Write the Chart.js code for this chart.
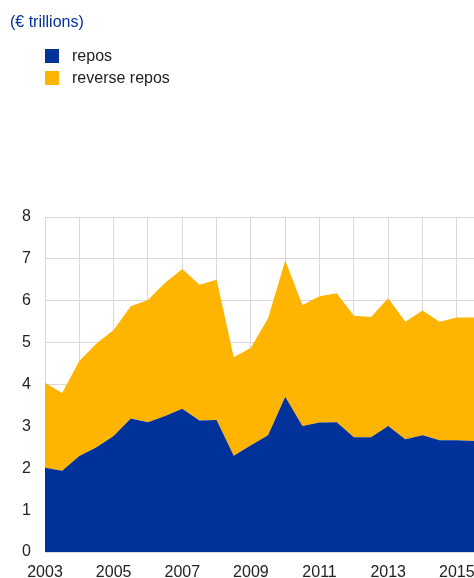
<!DOCTYPE html>
<html>
<head>
<meta charset="utf-8">
<script src="https://cdn.jsdelivr.net/npm/chart.js@4/dist/chart.umd.min.js"></script>
<style>
  html, body { margin: 0; padding: 0; background: #fff; }
  #wrap { position: relative; width: 474px; height: 578px; overflow: hidden; font-family: "Liberation Sans", Arial, sans-serif; }
  #c { position: absolute; left: 0; top: 0; }
  .title { position: absolute; left: 10px; top: 11px; font-size: 16px; line-height: 22px; color: #003299; }
  .leg { position: absolute; left: 45px; font-size: 16px; line-height: 22px; color: #222; height: 22px; }
  .leg span.sw { position: absolute; left: 0; top: 4px; width: 14px; height: 14px; }
  .leg span.tx { position: absolute; left: 27px; top: 0; white-space: nowrap; }
</style>
</head>
<body>
<div id="wrap">
  <canvas id="c" width="474" height="578"></canvas>
  <div class="title">(€ trillions)</div>
  <div class="leg" style="top:45px"><span class="sw" style="background:#003299"></span><span class="tx">repos</span></div>
  <div class="leg" style="top:67px"><span class="sw" style="background:#ffb400"></span><span class="tx">reverse repos</span></div>
</div>
<script>
const periods = [2003, 2003.5, 2004, 2004.5, 2005, 2005.5, 2006, 2006.5, 2007, 2007.5,
                 2008, 2008.5, 2009, 2009.5, 2010, 2010.5, 2011, 2011.5, 2012, 2012.5,
                 2013, 2013.5, 2014, 2014.5, 2015, 2015.5];
const repos = [2.01, 1.94, 2.29, 2.50, 2.77, 3.19, 3.10, 3.25, 3.42, 3.14,
               3.15, 2.30, 2.55, 2.79, 3.71, 3.01, 3.09, 3.10, 2.74, 2.74,
               3.01, 2.69, 2.79, 2.67, 2.67, 2.65];
const reverseRepos = [2.03, 1.86, 2.27, 2.48, 2.53, 2.68, 2.92, 3.18, 3.34, 3.24,
                      3.35, 2.35, 2.33, 2.79, 3.25, 2.89, 3.02, 3.08, 2.90, 2.87,
                      3.05, 2.81, 2.98, 2.83, 2.93, 2.95];
const seriesNames = ['repos', 'reverse repos'];
const xTickYears = [2003, 2004, 2005, 2006, 2007, 2008, 2009, 2010, 2011, 2012, 2013, 2014, 2015];
const xTickLabels = ['2003', '', '2005', '', '2007', '', '2009', '', '2011', '', '2013', '', '2015'];
const yTicks = [0, 1, 2, 3, 4, 5, 6, 7, 8];

const toXY = arr => arr.map((v, i) => ({ x: periods[i], y: v }));
const gridColor = '#d9d9d9';
const fontSpec = { family: '"Liberation Sans", Arial, sans-serif', size: 16 };

new Chart(document.getElementById('c'), {
  type: 'line',
  data: {
    datasets: [
      { label: seriesNames[0], data: toXY(repos), backgroundColor: '#003299', borderColor: '#003299',
        borderWidth: 0, pointRadius: 0, fill: 'origin', tension: 0 },
      { label: seriesNames[1], data: toXY(reverseRepos), backgroundColor: '#ffb400', borderColor: '#ffb400',
        borderWidth: 0, pointRadius: 0, fill: '-1', tension: 0 }
    ]
  },
  options: {
    responsive: false,
    devicePixelRatio: 1,
    animation: false,
    layout: { padding: { top: 217, left: 0, right: 0, bottom: 0 } },
    plugins: { legend: { display: false }, tooltip: { enabled: false } },
    scales: {
      x: {
        type: 'linear',
        min: periods[0],
        max: periods[periods.length - 1],
        grid: { color: gridColor, lineWidth: 1, drawTicks: false },
        border: { color: gridColor },
        afterBuildTicks: s => { s.ticks = xTickYears.map(v => ({ value: v })); },
        ticks: {
          padding: 11,
          color: '#222',
          font: fontSpec,
          maxRotation: 0,
          autoSkip: false,
          callback: (v) => { const i = xTickYears.indexOf(v); return i >= 0 ? xTickLabels[i] : null; }
        },
        afterFit: s => { s.height = 26; s.paddingRight = 0; s.paddingLeft = 0; }
      },
      y: {
        stacked: true,
        min: yTicks[0],
        max: yTicks[yTicks.length - 1],
        grid: { color: gridColor, lineWidth: 1, drawTicks: false },
        border: { color: gridColor },
        afterBuildTicks: s => { s.ticks = yTicks.map(v => ({ value: v })); },
        ticks: {
          padding: 14,
          color: '#222',
          font: fontSpec
        },
        afterFit: s => { s.width = 45; s.paddingTop = 0; s.paddingBottom = 0; }
      }
    }
  }
});
</script>
</body>
</html>
